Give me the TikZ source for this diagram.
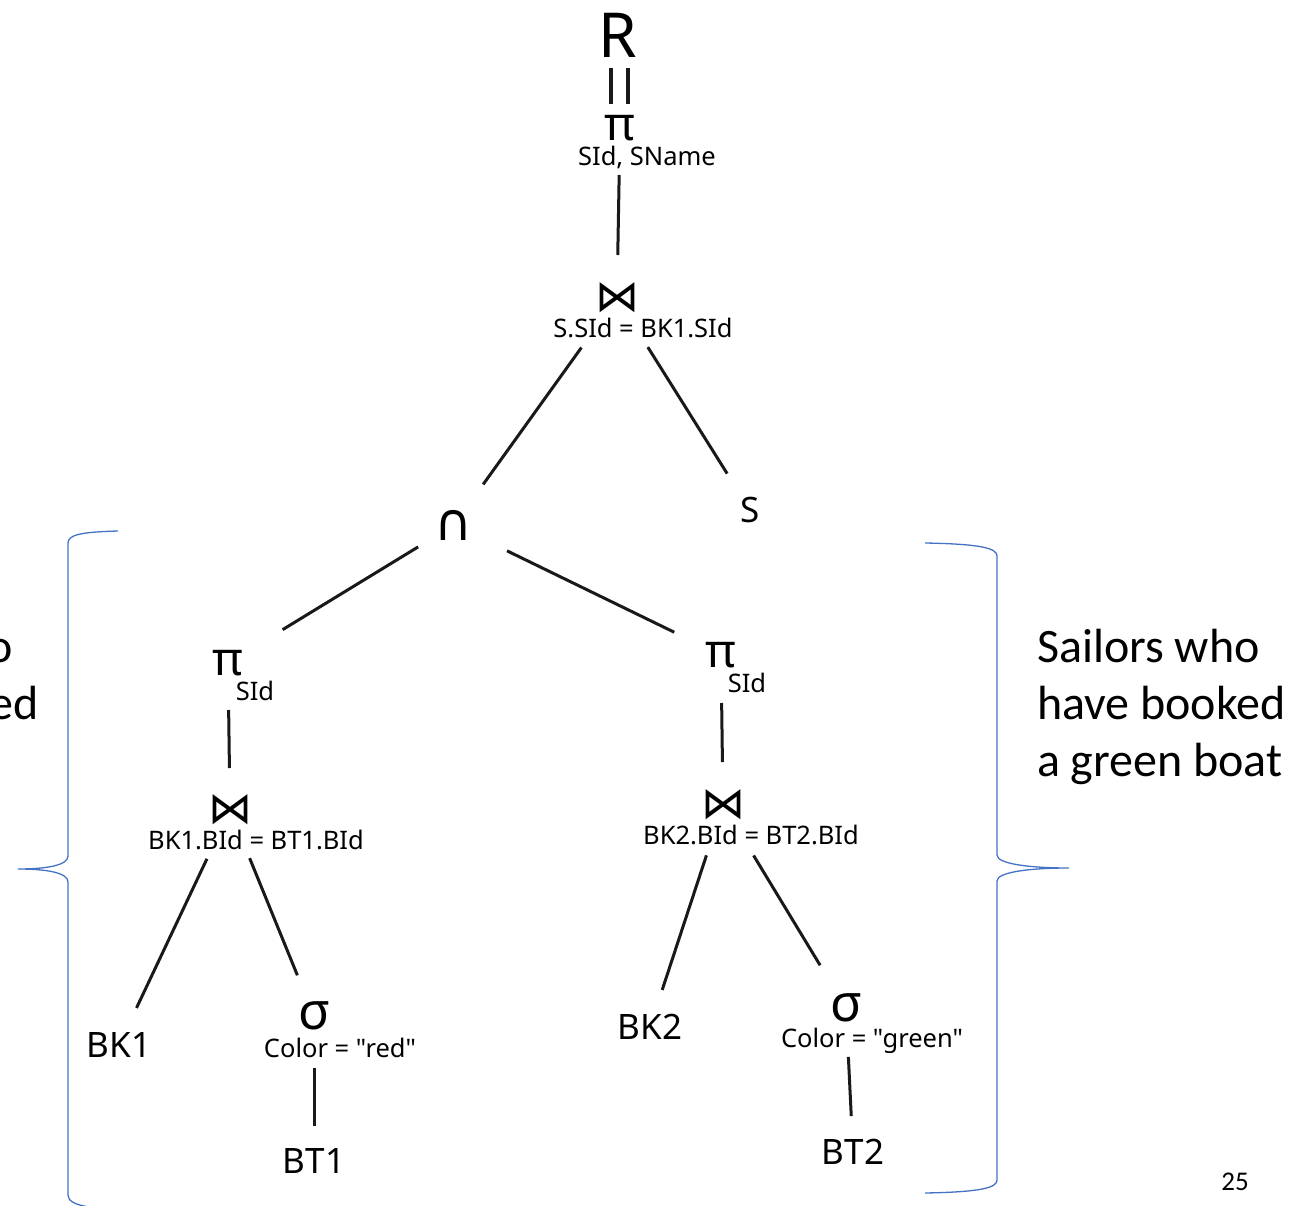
\documentclass[tikz,border=0pt]{standalone}
\usepackage{fontspec}
\setmainfont{Noto Sans}
\newfontfamily\labfont{Noto Sans}[Ligatures=TeXOff]
\newfontfamily\symfont{DejaVu Sans}
\newfontfamily\sidefont{Carlito}
\usetikzlibrary{calc}
\definecolor{braceblue}{RGB}{68,114,196}
\begin{document}
\begin{tikzpicture}[x=1pt,y=-1pt,
  every node/.style={inner sep=0pt, outer sep=0pt},
  big/.style={font=\labfont\fontsize{35}{40}\selectfont},
  sub/.style={anchor=base, font=\labfont\fontsize{25.5}{28}\selectfont},
  pisym/.style={font=\labfont\fontsize{47}{50}\selectfont},
  sigsym/.style={font=\labfont\fontsize{52}{56}\selectfont},
  joinsym/.style={font=\symfont\fontsize{44}{48}\selectfont},
  capsym/.style={font=\symfont\fontsize{52}{56}\selectfont},
  edge/.style={line width=3pt, black!90},
  bracestyle/.style={draw=braceblue, line width=1.3pt},
  side/.style={anchor=base west, align=left, font=\sidefont\fontsize{48}{57}\selectfont}
]
\useasboundingbox (0,0) rectangle (1311,1206);
\clip (0,0) rectangle (1311,1206);

% root
\node[font=\labfont\fontsize{62}{66}\selectfont] (R) at (618,35) {R};
\draw[edge, line width=3.6pt] ($(R.center)+(-7,33)$) -- ++(0,36);
\draw[edge, line width=3.6pt] ($(R.center)+(10,33)$) -- ++(0,36);

% top projection
\node[pisym] (T0) at (620,128) {π};
\node[sub] (T0l) at (647,166) {SId, SName};

% top join
\node[joinsym] (J0) at (617,298) {⋈};
\node[sub] (J0l) at (643,337) {S.SId = BK1.SId};

% intersection and S
\node[capsym] (CAP) at (454,525) {∩};
\node[big] (S) at (750,510) {S};

% left branch
\node[pisym] (PL) at (228,663) {π};
\node[sub] (PLl) at (255,700) {SId};
\node[joinsym] (JL) at (230,810) {⋈};
\node[sub] (JLl) at (256,849) {BK1.BId = BT1.BId};
\node[big] (BK1) at (119,1045) {BK1};
\node[sigsym] (SGL) at (314,1016) {σ};
\node[sub] (SGLl) at (340,1057) {Color = "red"};
\node[big] (BT1) at (314,1161) {BT1};

% right branch
\node[pisym] (PR) at (721,655) {π};
\node[sub] (PRl) at (747,692) {SId};
\node[joinsym] (JR) at (723,805) {⋈};
\node[sub] (JRl) at (751,844) {BK2.BId = BT2.BId};
\node[big] (BK2) at (650,1027) {BK2};
\node[sigsym] (SGR) at (846,1008) {σ};
\node[sub] (SGRl) at (872,1047) {Color = "green"};
\node[big] (BT2) at (853,1152) {BT2};

% edges
\draw[edge, shorten <=47pt, shorten >=43pt] (T0.center) -- (J0.center);
\draw[edge, shorten <=61pt, shorten >=50pt] (J0.center) -- (CAP.center);
\draw[edge, shorten <=58pt, shorten >=43pt] (J0.center) -- (S.center);
\draw[edge, shorten <=42pt, shorten >=64pt] (CAP.center) -- (PL.center);
\draw[edge, shorten <=59pt, shorten >=52pt] (CAP.center) -- (PR.center);
\draw[edge, shorten <=47pt, shorten >=42pt] (PL.center) -- (JL.center);
\draw[edge, shorten <=54pt, shorten >=41pt] (JL.center) -- (BK1.center);
\draw[edge, shorten <=52pt, shorten >=44pt] (JL.center) -- (SGL.center);
\draw[edge, shorten <=52pt, shorten >=35pt] (SGL.center) -- (BT1.center);
\draw[edge, shorten <=48pt, shorten >=43pt] (PR.center) -- (JR.center);
\draw[edge, shorten <=53pt, shorten >=39pt] (JR.center) -- (BK2.center);
\draw[edge, shorten <=59pt, shorten >=50pt] (JR.center) -- (SGR.center);
\draw[edge, shorten <=49pt, shorten >=36pt] (SGR.center) -- (BT2.center);

% braces
\draw[bracestyle] (118,531) .. controls (80,532) and (68,535) .. (68,543) -- (68,856)
  .. controls (68,865) and (48,869) .. (18,869)
  .. controls (48,869) and (68,873) .. (68,882) -- (68,1195)
  .. controls (68,1201) and (75,1205) .. (90,1207);
\draw[bracestyle] (925,543) .. controls (980,544) and (997,548) .. (997,556) -- (997,855)
  .. controls (997,864) and (1030,868) .. (1069,868)
  .. controls (1030,868) and (997,872) .. (997,881) -- (997,1180)
  .. controls (997,1188) and (980,1192) .. (925,1193);

% side texts
\node[side] (lefttext) at (-210,776) {Sailors who\\have booked\\a red boat};
\node[side] (righttext) at (1037,776) {Sailors who\\have booked\\a green boat};
\node[font=\sidefont\fontsize{27}{30}\selectfont] (pg) at (1235,1182) {25};
\end{tikzpicture}
\end{document}
